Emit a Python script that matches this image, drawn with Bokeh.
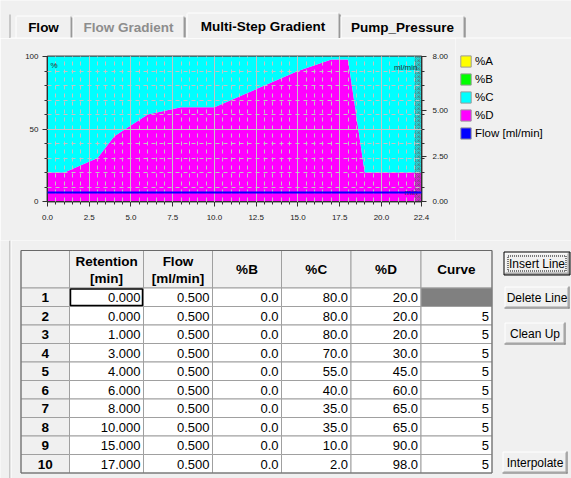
from bokeh.plotting import figure
from bokeh.models import (ColumnDataSource, Range1d, LinearAxis, FixedTicker,
                          NumeralTickFormatter, Legend, LegendItem, Label, BoxAnnotation)
from bokeh.layouts import column, row
from bokeh.core.properties import value
from bokeh.embed import file_html
from bokeh.resources import INLINE

# ---------------- data ----------------
tab_labels = ["Flow", "Flow Gradient", "Multi-Step Gradient", "Pump_Pressure"]
tab_enabled = [True, False, True, True]
selected_tab = "Multi-Step Gradient"

row_numbers = [1, 2, 3, 4, 5, 6, 7, 8, 9, 10]
retention = [0.000, 0.000, 1.000, 3.000, 4.000, 6.000, 8.000, 10.000, 15.000, 17.000]
flow = [0.500, 0.500, 0.500, 0.500, 0.500, 0.500, 0.500, 0.500, 0.500, 0.500]
pct_b = [0.0, 0.0, 0.0, 0.0, 0.0, 0.0, 0.0, 0.0, 0.0, 0.0]
pct_c = [80.0, 80.0, 80.0, 70.0, 55.0, 40.0, 35.0, 35.0, 10.0, 2.0]
pct_d = [20.0, 20.0, 20.0, 30.0, 45.0, 60.0, 65.0, 65.0, 90.0, 98.0]
curve = ["", "5", "5", "5", "5", "5", "5", "5", "5", "5"]

# program rows below the visible part of the table
more_retention = [18.0, 19.0, 22.0]
more_flow = [0.500, 0.500, 0.500]
more_b = [0.0, 0.0, 0.0]
more_c = [2.0, 80.0, 80.0]
more_d = [98.0, 20.0, 20.0]
time_axis_end = 22.4

header_line1 = ["", "Retention", "Flow", "%B", "%C", "%D", "Curve"]
header_line2 = ["", "[min]", "[ml/min]", "", "", "", ""]
button_labels = ["Insert Line", "Delete Line", "Clean Up", "Interpolate"]
legend_labels = ["%A", "%B", "%C", "%D", "Flow [ml/min]"]
x_ticks = [0.0, 2.5, 5.0, 7.5, 10.0, 12.5, 15.0, 17.5, 20.0, 22.4]
left_ticks = [0, 50, 100]
right_ticks = [0.0, 2.5, 5.0, 8.0]

# ---------------- style ----------------
FONT = "Liberation Sans"
BG = "#f0f0f0"
YELLOW, GREEN, CYAN, MAGENTA, BLUE = "#ffff00", "#00ff00", "#00ffff", "#ff00ff", "#0000ff"
SHADOW, DARK = "#a0a0a0", "#696969"
W = 571
CHART_W = 455


def chrome_fig(width, height, x0, x1, y0, y1):
    f = figure(width=width, height=height, x_range=Range1d(x0, x1), y_range=Range1d(y1, y0),
               x_axis_location=None, y_axis_location=None, toolbar_location=None,
               output_backend="svg", min_border=0, outline_line_color=None,
               background_fill_color=BG, border_fill_color=BG, frame_align=False)
    f.grid.visible = False
    return f


# ---------------- tab strip ----------------
tf = chrome_fig(W, 38, 0, W, 0, 38)
tab_bounds = [(15, 71), (72, 184), (186, 339), (340, 464)]
for (l, r), lab, en in zip(tab_bounds, tab_labels, tab_enabled):
    sel = lab == selected_tab
    top = 12 if sel else 15
    tf.segment(x0=[l + 0.5, l + 1], y0=[38, top + 0.5], x1=[l + 0.5, r - 1], y1=[top + 1, top + 0.5],
               line_color="white", line_width=1)
    tf.segment(x0=[r - 0.5], y0=[top + 1], x1=[r - 0.5], y1=[38], line_color=SHADOW, line_width=1)
    tf.segment(x0=[r + 0.5], y0=[top + 2], x1=[r + 0.5], y1=[38], line_color=DARK, line_width=1)
    tf.text(x=[(l + r) / 2], y=[26 if sel else 27], text=[lab], text_font=value(FONT),
            text_font_style="bold", text_font_size="13.5px",
            text_color="#000000" if en else "#8d8d8d", text_align="center", text_baseline="middle")
tf.segment(x0=[9.5, 10, 340], y0=[14, 37.5, 37.5], x1=[9.5, 186, 571], y1=[38, 37.5, 37.5],
           line_color=[SHADOW, "white", "white"], line_width=1)

# ---------------- gradient chart ----------------
t = retention + more_retention + [time_axis_end]
b_all = pct_b + more_b + [more_b[-1]]
c_all = pct_c + more_c + [more_c[-1]]
d_all = pct_d + more_d + [more_d[-1]]
f_all = flow + more_flow + [more_flow[-1]]
a_all = [100 - b - c - d for b, c, d in zip(b_all, c_all, d_all)]
src = ColumnDataSource(dict(t=t, A=a_all, B=b_all, C=c_all, D=d_all, flow=f_all))

p = figure(width=CHART_W, height=202, x_range=Range1d(0, time_axis_end), y_range=Range1d(0, 100),
           output_backend="svg", toolbar_location=None, frame_align=False,
           min_border_left=47, min_border_right=CHART_W - 421, min_border_top=18,
           min_border_bottom=39, background_fill_color=BG, border_fill_color=BG,
           outline_line_color="#4a4a4a", outline_line_width=2)
p.extra_y_ranges = {"flow": Range1d(0, 8)}

p.varea_stack(["D", "C", "B", "A"], x="t", color=[MAGENTA, CYAN, GREEN, YELLOW], source=src)
run_end = more_retention[-1]
p.quad(left=[run_end], right=[time_axis_end], bottom=[0], top=[100], fill_color="#808080",
       fill_alpha=0.25, line_color=None, hatch_pattern="criss_cross", hatch_color="#555555",
       hatch_alpha=0.35, hatch_scale=4)
p.line(x="t", y="flow", y_range_name="flow", line_color=BLUE, line_width=2, source=src, level="overlay")

x_minor = [i * 0.5 for i in range(45)]
p.xaxis.ticker = FixedTicker(ticks=x_ticks, minor_ticks=x_minor)
p.xaxis.formatter = NumeralTickFormatter(format="0.0")
p.yaxis.ticker = FixedTicker(ticks=left_ticks, minor_ticks=list(range(0, 101, 10)))
ra = LinearAxis(y_range_name="flow",
                ticker=FixedTicker(ticks=right_ticks, minor_ticks=[i * 0.8 for i in range(11)]),
                formatter=NumeralTickFormatter(format="0.00"))
p.add_layout(ra, "right")

for ax in p.axis:
    ax.axis_line_color = "#303030"
    ax.major_tick_line_color = "#303030"
    ax.minor_tick_line_color = "#303030"
    ax.major_tick_in = 0
    ax.major_tick_out = 5
    ax.minor_tick_in = 0
    ax.minor_tick_out = 3
    ax.major_label_text_font = FONT
    ax.major_label_text_font_size = "8px"
    ax.major_label_text_color = "#202020"
    ax.major_label_standoff = 4
ra.major_label_standoff = 6
p.xaxis.major_label_standoff = 8

for g in (p.xgrid, p.ygrid):
    g.grid_line_color = "#c4c4c4"
    g.grid_line_width = 1
    g.minor_grid_line_color = "#c4c4c4"
    g.minor_grid_line_dash = "4 4"
    g.level = "annotation"

for txt, x, y, xo, yo, al, bl in [("%", 0, 100, 3, -4, "left", "top"),
                                  ("ml/min", time_axis_end, 100, -4, -6, "right", "top"),
                                  ("min", time_axis_end, 0, -4, 5, "right", "bottom")]:
    p.add_layout(Label(x=x, y=y, x_offset=xo, y_offset=yo, text=txt, text_align=al,
                       text_baseline=bl, text_font=FONT, text_font_size="8px",
                       text_color="#2a2a2a"))

p.add_layout(BoxAnnotation(left=9, right=10, top=0, bottom=202, left_units="canvas",
                           right_units="canvas", top_units="canvas", bottom_units="canvas",
                           fill_color=SHADOW, fill_alpha=1, line_color=None))

# ---------------- legend panel (right of the chart) ----------------
lg = chrome_fig(W - CHART_W, 202, CHART_W, W, 38, 240)
swatch_colors = [YELLOW, GREEN, CYAN, MAGENTA, BLUE]
leg_items = []
for lab, col in zip(legend_labels, swatch_colors):
    # zero-size quad outside the visible range: only its legend swatch is shown
    r = lg.quad(left=[0], right=[0], top=[0], bottom=[0], fill_color=col, line_color="#9a9a9a")
    leg_items.append(LegendItem(label=lab, renderers=[r]))
legend = Legend(items=leg_items, location=(4, 100), glyph_width=13, glyph_height=14,
                label_height=14, spacing=4, padding=0, margin=0, label_standoff=3,
                label_text_font=FONT, label_text_font_size="11.5px", label_text_color="#000000",
                background_fill_alpha=0, border_line_color=None)
lg.add_layout(legend)

# ---------------- table + buttons ----------------
tb = chrome_fig(W, 240, 0, W, 238, 478)
tb.segment(x0=[9.5, 10.5], y0=[238, 238], x1=[9.5, 10.5], y1=[478, 478],
           line_color=[SHADOW, "white"])

col_w = [48.5, 74.0, 69.0, 69.0, 69.5, 70.0, 71.0]
tbl_left, hdr_top, hdr_h, row_h = 20.5, 248.0, 37.5, 18.5
edges = [tbl_left]
for w in col_w:
    edges.append(edges[-1] + w)
lefts, rights = edges[:-1], edges[1:]

# header
tb.quad(left=lefts, right=rights, top=[hdr_top] * 7, bottom=[hdr_top + hdr_h] * 7,
        fill_color=BG, line_color=SHADOW)
two = [i for i in range(7) if header_line2[i]]
one = [i for i in range(7) if header_line1[i] and not header_line2[i]]
hdr_kw = dict(text_font=value(FONT), text_font_style="bold", text_font_size="13.5px",
              text_align="center", text_baseline="middle", text_color="#000000")
tb.text(x=[(lefts[i] + rights[i]) / 2 for i in two], y=[hdr_top + 10.5] * len(two),
        text=[header_line1[i] for i in two], **hdr_kw)
tb.text(x=[(lefts[i] + rights[i]) / 2 for i in two], y=[hdr_top + 28] * len(two),
        text=[header_line2[i] for i in two], **hdr_kw)
tb.text(x=[(lefts[i] + rights[i]) / 2 for i in one], y=[hdr_top + hdr_h / 2] * len(one),
        text=[header_line1[i] for i in one], **hdr_kw)

# body cells
cl, cr, ct, cb, cf = [], [], [], [], []
for r in range(len(row_numbers)):
    top = hdr_top + hdr_h + r * row_h
    for c in range(7):
        cl.append(lefts[c]); cr.append(rights[c]); ct.append(top); cb.append(top + row_h)
        if c == 0:
            cf.append(BG)
        elif c == 6 and curve[r] == "":
            cf.append("#808080")
        else:
            cf.append("#ffffff")
tb.quad(left=cl, right=cr, top=ct, bottom=cb, fill_color=cf, line_color=SHADOW)

row_y = [hdr_top + hdr_h + (r + 0.5) * row_h + 0.5 for r in range(len(row_numbers))]
tb.text(x=[(lefts[0] + rights[0]) / 2] * len(row_numbers), y=row_y,
        text=[str(n) for n in row_numbers], **hdr_kw)
cols_txt = [[f"{v:.3f}" for v in retention], [f"{v:.3f}" for v in flow],
            [f"{v:.1f}" for v in pct_b], [f"{v:.1f}" for v in pct_c],
            [f"{v:.1f}" for v in pct_d], curve]
for k, vals in enumerate(cols_txt):
    tb.text(x=[rights[k + 1] - 3] * len(vals), y=row_y, text=vals, text_font=value(FONT),
            text_font_size="13px", text_align="right", text_baseline="middle",
            text_color="#000000")

# table border + focused cell
tb.quad(left=[tbl_left], right=[rights[-1]], top=[hdr_top], bottom=[cb[-1]],
        fill_color=None, line_color=DARK, line_width=1)
tb.quad(left=[lefts[1] + 1], right=[rights[1] - 1], top=[hdr_top + hdr_h + 1],
        bottom=[hdr_top + hdr_h + row_h - 1], fill_color=None, line_color="#000000",
        line_width=1.5)

# buttons
btn_top = [250, 284, 320, 449]
btn_left = [504, 504, 504, 502]
btn_right = [569, 569, 565, 567]
btn_h = 22
for i, (lab, y0, bl_, br_) in enumerate(zip(button_labels, btn_top, btn_left, btn_right)):
    y1 = y0 + btn_h
    tb.quad(left=[bl_], right=[br_], top=[y0], bottom=[y1], fill_color=BG, line_color=None)
    tb.segment(x0=[bl_ + 0.5, bl_ + 0.5], y0=[y0 + 0.5, y0 + 0.5], x1=[br_ - 1, bl_ + 0.5],
               y1=[y0 + 0.5, y1 - 1], line_color="white")
    tb.segment(x0=[bl_, br_ - 0.5], y0=[y1 - 0.5, y0], x1=[br_, br_ - 0.5], y1=[y1 - 0.5, y1],
               line_color=DARK)
    tb.segment(x0=[bl_ + 1, br_ - 1.5], y0=[y1 - 1.5, y0 + 1], x1=[br_ - 1, br_ - 1.5],
               y1=[y1 - 1.5, y1 - 1], line_color=SHADOW)
    if i == 0:
        tb.quad(left=[bl_ - 0.5], right=[br_ + 0.5], top=[y0 - 0.5], bottom=[y1 + 0.5],
                fill_color=None, line_color="#000000")
        tb.quad(left=[bl_ + 3.5], right=[br_ - 3.5], top=[y0 + 3.5], bottom=[y1 - 3.5],
                fill_color=None, line_color="#000000", line_dash="1 1")
    tb.text(x=[(bl_ + br_) / 2], y=[y0 + btn_h / 2 + 0.5], text=[lab], text_font=value(FONT),
            text_font_size="12px", text_align="center", text_baseline="middle",
            text_color="#000000")

layout = column(tf, row(p, lg, spacing=0), tb, spacing=0)
open("out.html", "w").write(file_html(layout, INLINE))
